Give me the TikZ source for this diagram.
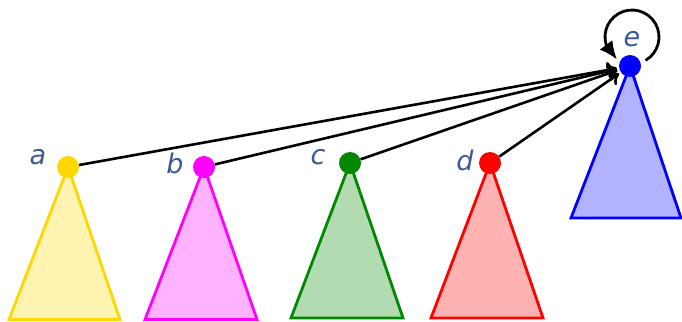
\documentclass[tikz,border=0pt]{standalone}
\usepackage{fontspec}
\setmainfont{DejaVu Sans}
\usetikzlibrary{arrows.meta,bending}
\definecolor{lblue}{RGB}{59,89,152}
\definecolor{cgold}{RGB}{255,215,0}
\definecolor{cmag}{RGB}{255,0,255}
\definecolor{cgreen}{RGB}{0,136,0}
\definecolor{cred}{RGB}{255,0,0}
\definecolor{cblue}{RGB}{0,0,255}
\tikzset{
  dot/.style={circle,fill=#1,inner sep=0pt,minimum size=22pt},
  tri/.style={draw=#1,fill=#1!30,line width=2.8pt,line join=miter},
  lbl/.style={text=lblue,font=\fontsize{27}{27}\selectfont\itshape,inner sep=0pt},
  edgeline/.style={line width=2.6pt,-{To[length=10pt,width=16pt]},shorten >=2pt},
  loopline/.style={line width=2.8pt,-{Latex[length=18pt,width=16pt,flex]}}
}
\begin{document}
\begin{tikzpicture}[x=1pt,y=-1pt]
\useasboundingbox (0,0) rectangle (682,321);
% dot positions
\coordinate (pa) at (68,167);
\coordinate (pb) at (204,167);
\coordinate (pc) at (350,163);
\coordinate (pd) at (490,163);
\coordinate (pe) at (630,66);
% triangles
\draw[tri=cgold] (pa) -- (9,319.5) -- (120,319.5) -- cycle;
\draw[tri=cmag] (pb) -- (145,319.5) -- (257,319.5) -- cycle;
\draw[tri=cgreen] (pc) -- (291,318) -- (403,318) -- cycle;
\draw[tri=cred] (pd) -- (431,318) -- (543,318) -- cycle;
\draw[tri=cblue] (pe) -- (571,218) -- (681,218) -- cycle;
\node[dot=cgold] (a) at (pa) {};
\node[dot=cmag] (b) at (pb) {};
\node[dot=cgreen] (c) at (pc) {};
\node[dot=cred] (d) at (pd) {};
\node[dot=cblue] (e) at (pe) {};
% labels
\node[lbl] (la) at (38,157) {a};
\node[lbl] (lb) at (175,163) {b};
\node[lbl] (lc) at (318,157) {c};
\node[lbl] (ld) at (465,160) {d};
\node[lbl] (le) at (632,39) {e};
% edges
\draw[edgeline] (a) -- (e);
\draw[edgeline] (b) -- (e);
\draw[edgeline] (c) -- (e);
\draw[edgeline] (d) -- (e);
% loop
\coordinate (ls) at (645.5,60.4);
\draw[loopline] (ls) arc[start angle=60,end angle=-236,radius=27];
\end{tikzpicture}
\end{document}
